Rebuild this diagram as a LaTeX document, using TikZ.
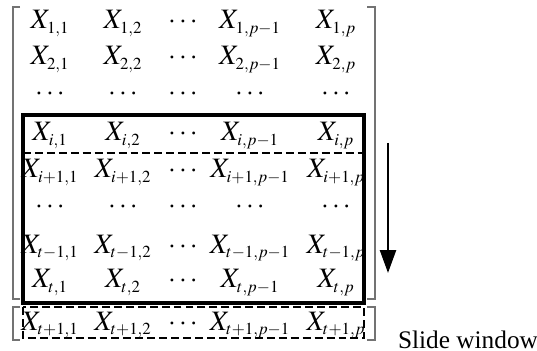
\documentclass[tikz,border=0pt]{standalone}
\usepackage{mathptmx}
\usepackage{fontspec}
\setmainfont{Liberation Serif}
\usetikzlibrary{arrows.meta}
\newcommand{\xent}[1]{$X_{\scriptscriptstyle #1}$}
\tikzset{
    entry/.style={anchor=base, font=\fontsize{16}{19}\selectfont, inner sep=0pt},
    bracket/.style={draw=black!55, line width=0.7pt},
    window/.style={draw=black, line width=2pt},
    dashwin/.style={draw=black, line width=1.7pt, dash pattern=on 4.5pt off 2.3pt},
    arrow/.style={-{Triangle[length=4.6mm, width=3.2mm]}, line width=1.4pt, draw=black},
}

\begin{document}
\begin{tikzpicture}
    \useasboundingbox (0,0) rectangle (10.74,-7.02);
    % rows of the data matrix
    \foreach \r/\y [count=\ri] in {1/0.58, 2/1.30, i/2.82, i+1/3.56, t-1/5.06, t/5.76, t+1/6.60} {
        \foreach \c/\x [count=\ci] in {1/1.0, 2/2.46, p-1/5.0, p/6.72}
            \node[entry] (x\ri-\ci) at (\x,-\y) {\xent{\r,\c}};
        \node[entry] (dots\ri) at (3.66,-\y) {$\cdots$};
    }
    \foreach \y [count=\di] in {2.02, 4.28}
        \foreach \x [count=\ci] in {1.0, 2.46, 3.66, 5.0, 6.72}
            \node[entry] (gap\di-\ci) at (\x,-\y) {$\cdots$};
    % brackets
    \draw[bracket] (0.40,-0.14) -- (0.26,-0.14) -- (0.26,-5.98) -- (0.40,-5.98);
    \draw[bracket] (7.34,-0.14) -- (7.50,-0.14) -- (7.50,-5.98) -- (7.34,-5.98);
    \draw[bracket] (0.40,-6.14) -- (0.26,-6.14) -- (0.26,-6.80) -- (0.40,-6.80);
    \draw[bracket] (7.34,-6.14) -- (7.50,-6.14) -- (7.50,-6.80) -- (7.34,-6.80);
    % windows
    \draw[window] (0.46,-2.30) rectangle (7.28,-6.06);
    \draw[dashwin] (0.46,-3.06) -- (7.28,-3.06);
    \draw[dashwin] (0.46,-6.14) rectangle (7.28,-6.76);
    \coordinate (slidetop) at (7.76,-2.86);
    \coordinate (slideend) at (7.76,-5.46);
    \draw[arrow] (slidetop) -- (slideend);
    \node[font=\Large, anchor=base] (slidelbl) at (9.36,-6.96) {Slide window};
\end{tikzpicture}
\end{document}
